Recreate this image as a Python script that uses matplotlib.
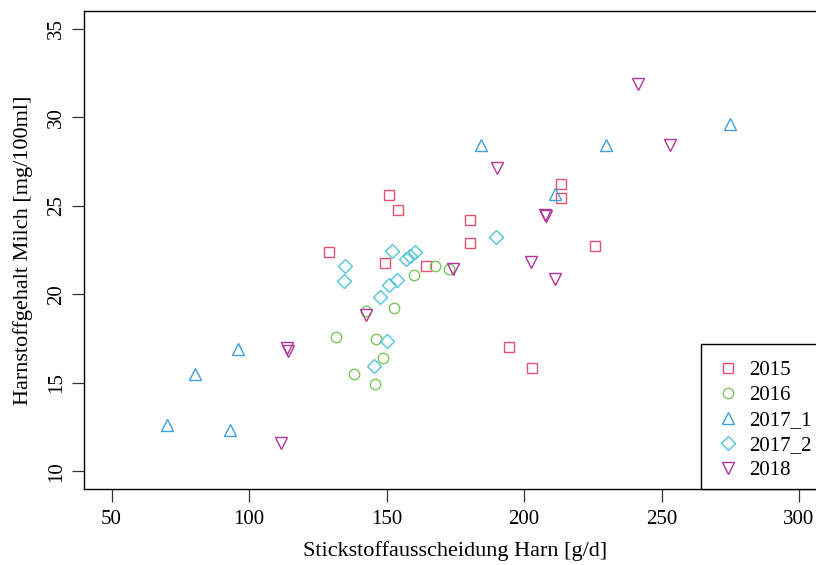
#!/usr/bin/env python

import matplotlib
matplotlib.use("Agg")
import matplotlib.pyplot as plt
from matplotlib.patches import Rectangle

# Stickstoffausscheidung Harn [g/d] vs. Harnstoffgehalt Milch [mg/100ml]
x_2015 = [129.0, 150.8, 154.3, 180.5, 180.2, 149.5, 164.4, 213.3, 213.3, 225.7, 194.6, 202.8]
y_2015 = [22.36, 25.58, 24.75, 24.19, 22.92, 21.75, 21.62, 26.20, 25.43, 22.70, 17.00, 15.81]

x_2016 = [167.5, 172.6, 159.9, 152.7, 131.8, 146.3, 148.9, 138.1, 145.7, 142.4]
y_2016 = [21.58, 21.40, 21.10, 19.25, 17.57, 17.49, 16.40, 15.51, 14.95, 19.04]

x_2017_1 = [70.1, 80.5, 95.9, 93.0, 184.2, 229.8, 211.2, 274.9]
y_2017_1 = [12.61, 15.51, 16.91, 12.31, 28.43, 28.41, 25.66, 29.60]

x_2017_2 = [152.0, 135.0, 134.7, 157.2, 158.7, 160.2, 153.8, 150.9, 147.6, 150.2, 145.3, 189.7]
y_2017_2 = [22.45, 21.62, 20.76, 22.00, 22.18, 22.41, 20.79, 20.55, 19.83, 17.34, 15.97, 23.26]

x_2018 = [241.5, 253.2, 190.2, 207.7, 208.1, 202.7, 211.3, 113.8, 114.0, 111.8, 142.4, 174.0]
y_2018 = [31.87, 28.43, 27.13, 24.45, 24.40, 21.81, 20.87, 16.97, 16.80, 11.60, 18.85, 21.40]

groups = ["2015", "2016", "2017_1", "2017_2", "2018"]
xs = [x_2015, x_2016, x_2017_1, x_2017_2, x_2018]
ys = [y_2015, y_2016, y_2017_1, y_2017_2, y_2018]
colors = ["#E8506E", "#7CC85B", "#3F9FE0", "#52C5D8", "#B4359A"]
markers = ["s", "o", "^", "D", "v"]
msizes = [7, 7.5, 8.5, 7, 8.5]

plt.rcParams["font.family"] = ["Liberation Serif", "DejaVu Serif"]

fig = plt.figure(figsize=(8.16, 5.65), dpi=100)
# axes reach past the right edge of the picture, like the cropped original
ax = fig.add_axes([84 / 816, 76 / 565, 742.5 / 816, 478 / 565])

for g, x, y, c, m, s in zip(groups, xs, ys, colors, markers, msizes):
    ax.plot(x, y, linestyle="none", marker=m, markersize=s, markerfacecolor="none",
            markeredgecolor=c, markeredgewidth=1.0, label=g)

ax.set_xlim(40, 310)
ax.set_ylim(9, 36)
ax.set_xticks([50, 100, 150, 200, 250, 300])
ax.set_yticks([10, 15, 20, 25, 30, 35])
ax.tick_params(direction="out", length=9, width=0.9, labelsize=15, pad=6, color="#333333")
ax.tick_params(axis="y", pad=4)
plt.setp(ax.get_yticklabels(), rotation=90, va="center")
for sp in ax.spines.values():
    sp.set_linewidth(1.0)

ax.set_xlabel("Stickstoffausscheidung Harn [g/d]", fontsize=16, labelpad=9)
ax.set_ylabel("Harnstoffgehalt Milch [mg/100ml]", fontsize=16, labelpad=10)

# legend frame running out of the picture
ax.add_patch(Rectangle((617 / 742.5, 0), 0.3, 145 / 478, transform=ax.transAxes,
                       facecolor="white", edgecolor="black", linewidth=1.0,
                       clip_on=False, zorder=5))
leg = ax.legend(loc="upper left", bbox_to_anchor=(617 / 742.5, 145 / 478), frameon=False,
                fontsize=15, borderaxespad=0, borderpad=0.8, handlelength=1.0,
                handletextpad=0.5, labelspacing=0.26)
leg.set_zorder(6)

fig.savefig("out.png", dpi=100)
